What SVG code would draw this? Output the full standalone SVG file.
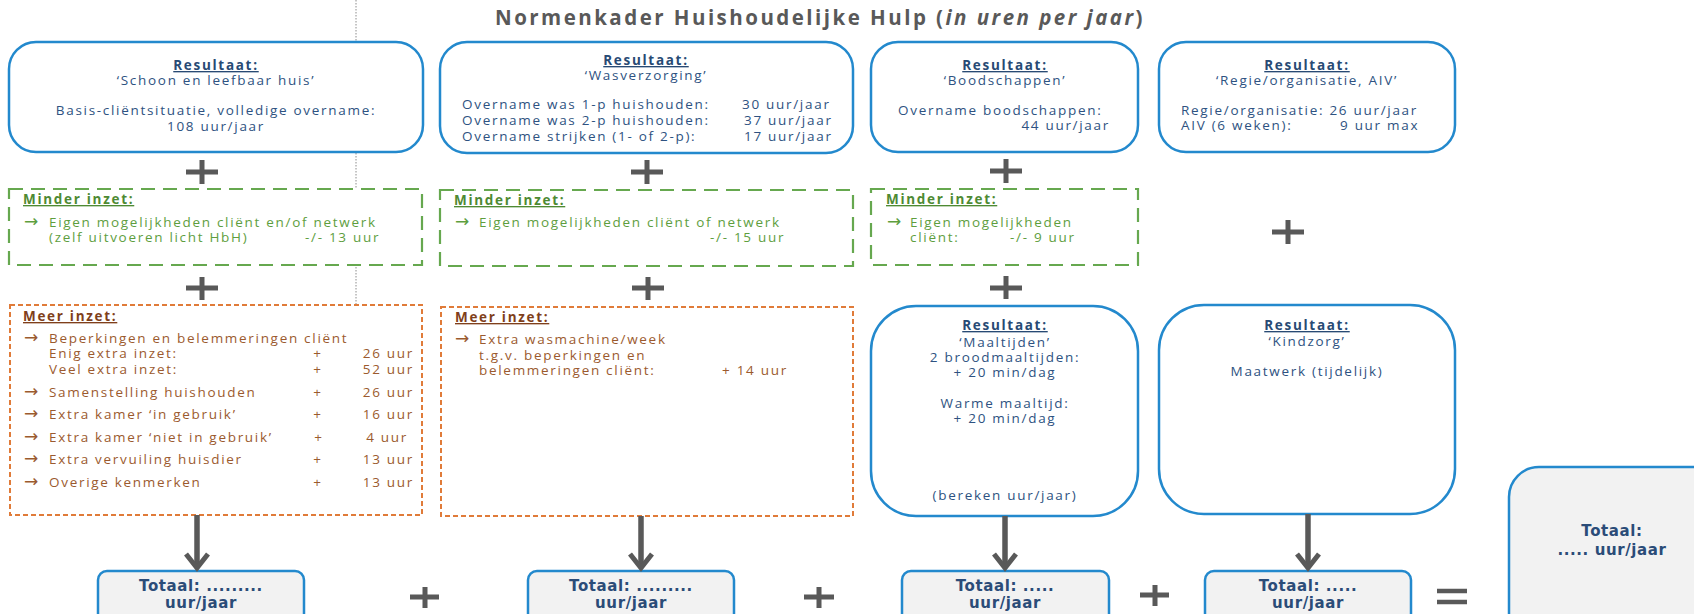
<svg xmlns="http://www.w3.org/2000/svg" width="1694" height="614" viewBox="0 0 1694 614">
<style>
text{font-family:"Open Sans","DejaVu Sans",sans-serif;font-size:13.5px;letter-spacing:1.7px}
.b{fill:#2E5281}
.bh{fill:#284A74;font-weight:bold;text-decoration:underline}
.g{fill:#5E9E3E}
.gh{fill:#4E8A33;font-weight:bold;text-decoration:underline}
.o{fill:#9B5A2E}
.oh{fill:#7F3F1B;font-weight:bold;text-decoration:underline}
.c{text-anchor:middle}
.e{text-anchor:end}
.ar{font-family:"DejaVu Sans",sans-serif;font-size:17px;letter-spacing:0}
.res{fill:#fff;stroke:#2389CD;stroke-width:2.5}
.tot{fill:#F2F2F2;stroke:#2389CD;stroke-width:2.5}
.tt{font-family:"DejaVu Sans",sans-serif;font-weight:bold;font-size:15px;letter-spacing:0.6px;fill:#2B4C78;text-anchor:middle}
.gd{fill:#fff;stroke:#66A84F;stroke-width:2.2;stroke-dasharray:14 8}
.od{fill:#fff;stroke:#E07B39;stroke-width:2;stroke-dasharray:5 3}
.op{fill:none;stroke:#595959;stroke-width:5}
.con{fill:none;stroke:#595959;stroke-width:5.5}
</style>
<defs>
<marker id="chev" viewBox="0 0 17 24" refX="15" refY="12" markerWidth="17" markerHeight="24" markerUnits="userSpaceOnUse" orient="auto" overflow="visible">
<path d="M1,1 L15,12 L1,23" fill="none" stroke="#595959" stroke-width="5"/>
</marker>
</defs>
<rect width="1694" height="614" fill="#fff"/>
<line x1="356" y1="0" x2="356" y2="305" stroke="#8C8C8C" stroke-width="1" stroke-dasharray="1.5 1.5"/>
<text x="495" y="25" textLength="648" lengthAdjust="spacing" style="font-size:20.5px;font-weight:bold;fill:#595959;letter-spacing:0.5px">Normenkader Huishoudelijke Hulp (<tspan font-style="italic">in uren per jaar</tspan>)</text>

<g id="res-schoon">
<rect class="res" x="9" y="42" width="414" height="110" rx="27"/>
<text class="bh c" x="216" y="70">Resultaat:</text>
<text class="b c" x="216" y="85">‘Schoon en leefbaar huis’</text>
<text class="b c" x="216" y="115">Basis-cliëntsituatie, volledige overname:</text>
<text class="b c" x="216" y="131">108 uur/jaar</text>
</g>
<g id="res-was">
<rect class="res" x="440" y="42" width="413" height="111" rx="27"/>
<text class="bh c" x="646" y="65">Resultaat:</text>
<text class="b c" x="646" y="80">‘Wasverzorging’</text>
<text class="b" x="462" y="109">Overname was 1-p huishouden:</text>
<text class="b" x="742" y="109">30 uur/jaar</text>
<text class="b" x="462" y="125">Overname was 2-p huishouden:</text>
<text class="b" x="744" y="125">37 uur/jaar</text>
<text class="b" x="462" y="141">Overname strijken (1- of 2-p):</text>
<text class="b" x="744" y="141">17 uur/jaar</text>
</g>
<g id="res-boodschappen">
<rect class="res" x="871" y="42" width="267" height="110" rx="27"/>
<text class="bh c" x="1005" y="70">Resultaat:</text>
<text class="b c" x="1005" y="85">‘Boodschappen’</text>
<text class="b" x="898" y="115">Overname boodschappen:</text>
<text class="b e" x="1110" y="130">44 uur/jaar</text>
</g>
<g id="res-regie">
<rect class="res" x="1159" y="42" width="296" height="110" rx="27"/>
<text class="bh c" x="1307" y="70">Resultaat:</text>
<text class="b c" x="1307" y="85">‘Regie/organisatie, AIV’</text>
<text class="b" x="1181" y="115">Regie/organisatie: 26 uur/jaar</text>
<text class="b" x="1181" y="130">AIV (6 weken):</text>
<text class="b" x="1340" y="130">9 uur max</text>
</g>

<g id="minder-1">
<rect class="gd" x="9" y="189" width="413" height="76"/>
<text class="gh" x="23" y="204">Minder inzet:</text>
<text class="g" y="227"><tspan class="ar" x="24">→</tspan><tspan x="49">Eigen mogelijkheden cliënt en/of netwerk</tspan></text>
<text class="g" x="49" y="242">(zelf uitvoeren licht HbH)</text>
<text class="g" x="305" y="242">-/- 13 uur</text>
</g>
<g id="minder-2">
<rect class="gd" x="440" y="190" width="413" height="76"/>
<text class="gh" x="454" y="205">Minder inzet:</text>
<text class="g" y="227"><tspan class="ar" x="455">→</tspan><tspan x="479">Eigen mogelijkheden cliënt of netwerk</tspan></text>
<text class="g" x="710" y="242">-/- 15 uur</text>
</g>
<g id="minder-3">
<rect class="gd" x="871" y="189" width="267" height="76"/>
<text class="gh" x="886" y="204">Minder inzet:</text>
<text class="g" y="227"><tspan class="ar" x="887">→</tspan><tspan x="910">Eigen mogelijkheden</tspan></text>
<text class="g" x="910" y="242">cliënt:</text>
<text class="g" x="1010" y="242">-/- 9 uur</text>
</g>

<g id="meer-1">
<rect class="od" x="10" y="305" width="412" height="210"/>
<text class="oh" x="23" y="321">Meer inzet:</text>
<text class="o" y="343"><tspan class="ar" x="24">→</tspan><tspan x="49">Beperkingen en belemmeringen cliënt</tspan></text>
<text class="o" x="49" y="358">Enig extra inzet:</text>
<text class="o c" x="318" y="358">+</text>
<text class="o e" x="414" y="358">26  uur</text>
<text class="o" x="49" y="374">Veel extra inzet:</text>
<text class="o c" x="318" y="374">+</text>
<text class="o e" x="414" y="374">52 uur</text>
<text class="o" y="397"><tspan class="ar" x="24">→</tspan><tspan x="49">Samenstelling huishouden</tspan></text>
<text class="o c" x="318" y="397">+</text>
<text class="o e" x="414" y="397">26 uur</text>
<text class="o" y="419"><tspan class="ar" x="24">→</tspan><tspan x="49">Extra kamer ‘in gebruik’</tspan></text>
<text class="o c" x="318" y="419">+</text>
<text class="o e" x="414" y="419">16 uur</text>
<text class="o" y="442"><tspan class="ar" x="24">→</tspan><tspan x="49">Extra kamer ‘niet in gebruik’</tspan></text>
<text class="o c" x="319" y="442">+</text>
<text class="o e" x="408" y="442">4 uur</text>
<text class="o" y="464"><tspan class="ar" x="24">→</tspan><tspan x="49">Extra vervuiling huisdier</tspan></text>
<text class="o c" x="318" y="464">+</text>
<text class="o e" x="414" y="464">13 uur</text>
<text class="o" y="487"><tspan class="ar" x="24">→</tspan><tspan x="49">Overige kenmerken</tspan></text>
<text class="o c" x="318" y="487">+</text>
<text class="o e" x="414" y="487">13 uur</text>
</g>
<g id="meer-2">
<rect class="od" x="441" y="307" width="412" height="209"/>
<text class="oh" x="455" y="322">Meer inzet:</text>
<text class="o" y="344"><tspan class="ar" x="455">→</tspan><tspan x="479">Extra wasmachine/week</tspan></text>
<text class="o" x="479" y="360">t.g.v. beperkingen en</text>
<text class="o" x="479" y="375">belemmeringen cliënt:</text>
<text class="o" x="722" y="375">+ 14 uur</text>
</g>

<g id="res-maaltijden">
<rect class="res" x="871" y="306" width="267" height="210" rx="45"/>
<text class="bh c" x="1005" y="330">Resultaat:</text>
<text class="b c" x="1005" y="347">‘Maaltijden’</text>
<text class="b c" x="1005" y="362">2 broodmaaltijden:</text>
<text class="b c" x="1005" y="377">+ 20 min/dag</text>
<text class="b c" x="1005" y="408">Warme maaltijd:</text>
<text class="b c" x="1005" y="423">+ 20 min/dag</text>
<text class="b c" x="1005" y="500">(bereken uur/jaar)</text>
</g>
<g id="res-kindzorg">
<rect class="res" x="1159" y="305" width="296" height="209" rx="45"/>
<text class="bh c" x="1307" y="330">Resultaat:</text>
<text class="b c" x="1307" y="346">‘Kindzorg’</text>
<text class="b c" x="1307" y="376">Maatwerk (tijdelijk)</text>
</g>

<g id="totaal-1">
<rect class="tot" x="98" y="571" width="206" height="60" rx="9"/>
<text class="tt" x="201" y="591">Totaal: .........</text>
<text class="tt" x="201" y="608">uur/jaar</text>
</g>
<g id="totaal-2">
<rect class="tot" x="528" y="571" width="206" height="60" rx="9"/>
<text class="tt" x="631" y="591">Totaal: .........</text>
<text class="tt" x="631" y="608">uur/jaar</text>
</g>
<g id="totaal-3">
<rect class="tot" x="902" y="571" width="207" height="60" rx="9"/>
<text class="tt" x="1005" y="591">Totaal: .....</text>
<text class="tt" x="1005" y="608">uur/jaar</text>
</g>
<g id="totaal-4">
<rect class="tot" x="1205" y="571" width="206" height="60" rx="9"/>
<text class="tt" x="1308" y="591">Totaal: .....</text>
<text class="tt" x="1308" y="608">uur/jaar</text>
</g>
<g id="totaal-eind">
<rect class="tot" x="1509" y="467" width="220" height="180" rx="30"/>
<text class="tt" x="1612" y="536">Totaal:</text>
<text class="tt" x="1612" y="555">..... uur/jaar</text>
</g>

<g id="operators">
<path class="op" d="M186,172H218M202,160V184"/>
<path class="op" d="M631,172H663M647,160V184"/>
<path class="op" d="M990,171H1022M1006,159V183"/>
<path class="op" d="M1272,232H1304M1288,220V244"/>
<path class="op" d="M186,288H218M202,277V300"/>
<path class="op" d="M632,288H664M648,277V300"/>
<path class="op" d="M990,288H1022M1006,276V299"/>
<path class="op" d="M410,597H439M425,587V608"/>
<path class="op" d="M804,597H834M819,587V608"/>
<path class="op" d="M1140,595H1169M1155,585V606"/>
<path class="op" d="M1437,591H1467M1437,602H1467" style="stroke-width:4.5"/>
</g>

<g id="connectors">
<line class="con" x1="197" y1="515" x2="197" y2="568" marker-end="url(#chev)"/>
<line class="con" x1="641" y1="516" x2="641" y2="568" marker-end="url(#chev)"/>
<line class="con" x1="1005" y1="516" x2="1005" y2="568" marker-end="url(#chev)"/>
<line class="con" x1="1308" y1="514" x2="1308" y2="568" marker-end="url(#chev)"/>
</g>
</svg>
